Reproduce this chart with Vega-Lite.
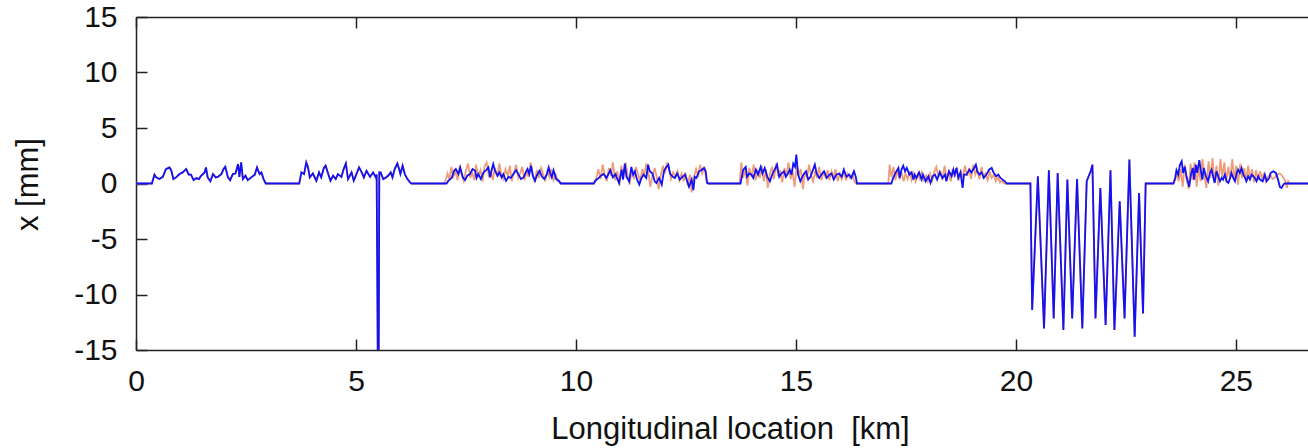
{
  "$schema": "https://vega.github.io/schema/vega-lite/v6.json",
  "width": 1172,
  "height": 333,
  "autosize": {"type": "none"},
  "padding": {"left": 136, "top": 17, "right": 0, "bottom": 98},
  "background": "white",
  "config": {
    "view": {"stroke": null},
    "font": "Liberation Sans",
    "axis": {
      "domainColor": "#222",
      "domainWidth": 1.5,
      "tickColor": "#222",
      "tickWidth": 1.5,
      "tickSize": -11,
      "labelColor": "#111",
      "titleColor": "#111",
      "labelFontSize": 30,
      "titleFontSize": 31,
      "titleFontWeight": "normal",
      "grid": false
    }
  },
  "datasets": {
    "orange": [
      {"d":0,"x":0},{"d":0.36,"x":0},{"d":0.42,"x":0.8},{"d":0.46,"x":0.55},{"d":0.53,"x":0.4},{"d":0.61,"x":0.6},{"d":0.68,"x":1.3},{"d":0.76,"x":1.45},{"d":0.8,"x":1.2},{"d":0.85,"x":0.4},{"d":0.91,"x":0.55},{"d":0.99,"x":0.85},{"d":1.06,"x":1.0},{"d":1.14,"x":1.3},{"d":1.2,"x":0.8},{"d":1.25,"x":0.8},{"d":1.31,"x":0.3},{"d":1.37,"x":0.5},{"d":1.43,"x":0.4},{"d":1.48,"x":0.7},{"d":1.56,"x":1.0},{"d":1.59,"x":1.45},{"d":1.63,"x":0.55},{"d":1.69,"x":0.2},{"d":1.75,"x":0.85},{"d":1.81,"x":0.55},{"d":1.86,"x":0.6},{"d":1.94,"x":0.85},{"d":1.99,"x":1.3},{"d":2.03,"x":1.5},{"d":2.09,"x":0.55},{"d":2.14,"x":0.3},{"d":2.2,"x":0.85},{"d":2.26,"x":0.9},{"d":2.32,"x":1.75},{"d":2.35,"x":0.6},{"d":2.39,"x":1.9},{"d":2.43,"x":0.4},{"d":2.49,"x":0.7},{"d":2.54,"x":0.3},{"d":2.62,"x":0.55},{"d":2.7,"x":0.8},{"d":2.75,"x":1.45},{"d":2.81,"x":0.85},{"d":2.85,"x":1.0},{"d":2.9,"x":0.4},{"d":2.95,"x":0},
      {"d":3.71,"x":0},{"d":3.76,"x":1.0},{"d":3.82,"x":0.85},{"d":3.87,"x":1.9},{"d":3.91,"x":1.45},{"d":3.95,"x":0.55},{"d":4.02,"x":0.9},{"d":4.1,"x":0.25},{"d":4.16,"x":1.0},{"d":4.21,"x":0.55},{"d":4.27,"x":1.4},{"d":4.31,"x":1.6},{"d":4.37,"x":0.85},{"d":4.42,"x":0.25},{"d":4.48,"x":0.7},{"d":4.54,"x":0.4},{"d":4.59,"x":0.85},{"d":4.67,"x":0.6},{"d":4.72,"x":1.3},{"d":4.77,"x":1.8},{"d":4.82,"x":0.4},{"d":4.9,"x":1.0},{"d":4.95,"x":0.25},{"d":5.01,"x":0.85},{"d":5.07,"x":1.45},{"d":5.13,"x":1.0},{"d":5.18,"x":0.55},{"d":5.24,"x":1.15},{"d":5.32,"x":0.6},{"d":5.39,"x":1.0},{"d":5.45,"x":0.55},{"d":5.47,"x":0.8},{"d":5.51,"x":-25},{"d":5.53,"x":1.0},{"d":5.56,"x":1.0},{"d":5.62,"x":0.4},{"d":5.68,"x":0.55},{"d":5.73,"x":0.7},{"d":5.79,"x":1.0},{"d":5.83,"x":0.55},{"d":5.88,"x":1.3},{"d":5.94,"x":1.8},{"d":5.98,"x":1.3},{"d":6.01,"x":0.85},{"d":6.06,"x":1.6},{"d":6.11,"x":0.85},{"d":6.17,"x":0.4},{"d":6.23,"x":0.1},{"d":6.26,"x":0},
      {"d":7.0,"x":0},{"d":7.04,"x":0.3},{"d":7.08,"x":0.9},{"d":7.12,"x":0.4},{"d":7.17,"x":1.5},{"d":7.21,"x":0.6},{"d":7.26,"x":1.1},{"d":7.31,"x":0.3},{"d":7.36,"x":1.6},{"d":7.4,"x":0.8},{"d":7.45,"x":0.2},{"d":7.5,"x":1.2},{"d":7.55,"x":1.8},{"d":7.6,"x":0.5},{"d":7.64,"x":1.0},{"d":7.69,"x":0.3},{"d":7.73,"x":1.7},{"d":7.78,"x":0.6},{"d":7.83,"x":1.2},{"d":7.88,"x":0.2},{"d":7.92,"x":1.5},{"d":7.97,"x":1.9},{"d":8.02,"x":0.7},{"d":8.07,"x":1.1},{"d":8.11,"x":0.3},{"d":8.16,"x":1.4},{"d":8.21,"x":0.6},{"d":8.26,"x":1.8},{"d":8.3,"x":0.9},{"d":8.35,"x":0.4},{"d":8.4,"x":1.3},{"d":8.45,"x":0.7},{"d":8.5,"x":1.6},{"d":8.54,"x":0.2},{"d":8.59,"x":1.0},{"d":8.64,"x":1.7},{"d":8.69,"x":0.5},{"d":8.73,"x":0.9},{"d":8.78,"x":1.5},{"d":8.83,"x":0.3},{"d":8.88,"x":1.1},{"d":8.92,"x":0.6},{"d":8.97,"x":1.9},{"d":9.02,"x":0.8},{"d":9.06,"x":0.1},{"d":9.11,"x":1.2},{"d":9.16,"x":0.5},{"d":9.21,"x":1.4},{"d":9.25,"x":0.9},{"d":9.3,"x":0.2},{"d":9.35,"x":1.1},{"d":9.4,"x":0.6},{"d":9.44,"x":1.3},{"d":9.49,"x":0.3},{"d":9.54,"x":0.8},{"d":9.59,"x":0.2},{"d":9.64,"x":0},
      {"d":10.42,"x":0},{"d":10.47,"x":0.6},{"d":10.51,"x":1.3},{"d":10.56,"x":0.4},{"d":10.61,"x":1.7},{"d":10.65,"x":0.9},{"d":10.7,"x":0.2},{"d":10.75,"x":1.4},{"d":10.8,"x":0.7},{"d":10.84,"x":1.9},{"d":10.89,"x":0.3},{"d":10.94,"x":1.1},{"d":10.99,"x":-0.2},{"d":11.03,"x":1.6},{"d":11.08,"x":0.5},{"d":11.13,"x":1.9},{"d":11.17,"x":0.8},{"d":11.22,"x":-0.1},{"d":11.27,"x":1.2},{"d":11.32,"x":0.4},{"d":11.36,"x":1.5},{"d":11.41,"x":0.9},{"d":11.46,"x":0.2},{"d":11.51,"x":1.3},{"d":11.55,"x":0.6},{"d":11.6,"x":1.8},{"d":11.65,"x":0.9},{"d":11.69,"x":-0.3},{"d":11.74,"x":0.7},{"d":11.79,"x":1.4},{"d":11.84,"x":0.5},{"d":11.88,"x":-0.5},{"d":11.93,"x":0.8},{"d":11.98,"x":1.6},{"d":12.02,"x":0.9},{"d":12.07,"x":1.9},{"d":12.12,"x":1.2},{"d":12.16,"x":0.4},{"d":12.21,"x":1.0},{"d":12.26,"x":0.6},{"d":12.31,"x":1.1},{"d":12.35,"x":0.3},{"d":12.4,"x":0.9},{"d":12.45,"x":0.2},{"d":12.49,"x":1.0},{"d":12.54,"x":-0.2},{"d":12.59,"x":0.8},{"d":12.63,"x":-0.8},{"d":12.68,"x":0.5},{"d":12.73,"x":1.3},{"d":12.78,"x":0.6},{"d":12.82,"x":1.7},{"d":12.87,"x":0.9},{"d":12.92,"x":1.5},{"d":12.96,"x":0.4},{"d":13.0,"x":0},
      {"d":13.72,"x":0},{"d":13.76,"x":1.9},{"d":13.8,"x":0.5},{"d":13.85,"x":1.2},{"d":13.9,"x":-0.2},{"d":13.94,"x":1.4},{"d":13.99,"x":0.6},{"d":14.04,"x":1.7},{"d":14.08,"x":0.3},{"d":14.13,"x":1.1},{"d":14.18,"x":0.5},{"d":14.22,"x":1.6},{"d":14.27,"x":0.2},{"d":14.32,"x":1.3},{"d":14.36,"x":-0.4},{"d":14.41,"x":0.9},{"d":14.46,"x":1.5},{"d":14.5,"x":0.4},{"d":14.55,"x":1.8},{"d":14.6,"x":0.7},{"d":14.64,"x":1.2},{"d":14.69,"x":0.1},{"d":14.74,"x":1.4},{"d":14.78,"x":0.6},{"d":14.83,"x":1.9},{"d":14.88,"x":0.4},{"d":14.92,"x":1.2},{"d":14.97,"x":-0.3},{"d":15.02,"x":1.6},{"d":15.06,"x":0.7},{"d":15.11,"x":1.3},{"d":15.16,"x":-0.5},{"d":15.2,"x":1.0},{"d":15.25,"x":0.5},{"d":15.3,"x":1.7},{"d":15.34,"x":0.8},{"d":15.39,"x":0.2},{"d":15.44,"x":1.1},{"d":15.48,"x":0.5},{"d":15.53,"x":1.5},{"d":15.58,"x":0.3},{"d":15.62,"x":1.0},{"d":15.67,"x":0.6},{"d":15.72,"x":1.2},{"d":15.76,"x":0.3},{"d":15.81,"x":1.1},{"d":15.86,"x":0.5},{"d":15.9,"x":1.3},{"d":15.95,"x":0.2},{"d":16.0,"x":0.9},{"d":16.04,"x":0.4},{"d":16.09,"x":1.1},{"d":16.14,"x":0.3},{"d":16.18,"x":0.9},{"d":16.23,"x":0.5},{"d":16.28,"x":0.8},{"d":16.33,"x":0.2},{"d":16.37,"x":0},
      {"d":17.1,"x":0},{"d":17.13,"x":1.7},{"d":17.17,"x":0.6},{"d":17.22,"x":1.5},{"d":17.26,"x":0.3},{"d":17.31,"x":1.2},{"d":17.35,"x":0.5},{"d":17.4,"x":1.0},{"d":17.45,"x":0.2},{"d":17.49,"x":0.9},{"d":17.54,"x":0.4},{"d":17.59,"x":1.1},{"d":17.63,"x":0.3},{"d":17.68,"x":0.9},{"d":17.72,"x":0.2},{"d":17.77,"x":0.8},{"d":17.82,"x":0.4},{"d":17.86,"x":1.0},{"d":17.91,"x":0.3},{"d":17.96,"x":0.7},{"d":18.0,"x":0.2},{"d":18.05,"x":0.9},{"d":18.1,"x":0.3},{"d":18.14,"x":1.0},{"d":18.19,"x":1.5},{"d":18.24,"x":0.6},{"d":18.28,"x":1.2},{"d":18.33,"x":0.3},{"d":18.38,"x":1.6},{"d":18.42,"x":0.5},{"d":18.47,"x":1.0},{"d":18.52,"x":0.2},{"d":18.56,"x":1.3},{"d":18.61,"x":0.6},{"d":18.66,"x":1.5},{"d":18.7,"x":0.3},{"d":18.75,"x":1.1},{"d":18.8,"x":0.5},{"d":18.84,"x":1.6},{"d":18.89,"x":0.7},{"d":18.94,"x":1.4},{"d":18.98,"x":0.4},{"d":19.03,"x":1.7},{"d":19.08,"x":0.8},{"d":19.12,"x":1.3},{"d":19.17,"x":0.4},{"d":19.22,"x":1.5},{"d":19.26,"x":0.6},{"d":19.31,"x":0.9},{"d":19.36,"x":0.3},{"d":19.4,"x":1.1},{"d":19.45,"x":0.5},{"d":19.5,"x":0.8},{"d":19.54,"x":0.2},{"d":19.59,"x":0.6},{"d":19.64,"x":0.1},{"d":19.68,"x":0.3},{"d":19.73,"x":0},
      {"d":20.33,"x":0},{"d":20.37,"x":-11.4},{"d":20.5,"x":0.65},{"d":20.64,"x":-13.05},{"d":20.75,"x":1.2},{"d":20.86,"x":-12.15},{"d":20.95,"x":0.95},{"d":21.08,"x":-13.2},{"d":21.17,"x":0.35},{"d":21.28,"x":-12.15},{"d":21.39,"x":0.4},{"d":21.51,"x":-13.05},{"d":21.61,"x":0.2},{"d":21.7,"x":1.1},{"d":21.74,"x":1.7},{"d":21.81,"x":-12.15},{"d":21.92,"x":-0.4},{"d":22.04,"x":-12.75},{"d":22.15,"x":1.2},{"d":22.24,"x":-13.2},{"d":22.36,"x":-1.6},{"d":22.47,"x":-12.15},{"d":22.58,"x":2.15},{"d":22.7,"x":-13.8},{"d":22.8,"x":-0.85},{"d":22.89,"x":-11.7},{"d":22.95,"x":0},
      {"d":23.58,"x":0},{"d":23.62,"x":0.3},{"d":23.66,"x":0.9},{"d":23.7,"x":0.2},{"d":23.75,"x":1.3},{"d":23.79,"x":-0.3},{"d":23.84,"x":1.7},{"d":23.88,"x":0.4},{"d":23.93,"x":-0.5},{"d":23.97,"x":1.8},{"d":24.02,"x":0.3},{"d":24.06,"x":1.9},{"d":24.11,"x":-0.3},{"d":24.15,"x":1.5},{"d":24.2,"x":0.2},{"d":24.24,"x":2.2},{"d":24.29,"x":0.6},{"d":24.33,"x":-0.4},{"d":24.38,"x":2.0},{"d":24.42,"x":0.5},{"d":24.47,"x":2.3},{"d":24.51,"x":0.2},{"d":24.56,"x":1.6},{"d":24.6,"x":-0.2},{"d":24.65,"x":2.2},{"d":24.69,"x":0.6},{"d":24.74,"x":1.9},{"d":24.78,"x":0.1},{"d":24.83,"x":1.5},{"d":24.87,"x":0.4},{"d":24.92,"x":2.2},{"d":24.96,"x":0.3},{"d":25.01,"x":1.6},{"d":25.05,"x":-0.1},{"d":25.1,"x":1.8},{"d":25.14,"x":0.5},{"d":25.19,"x":1.4},{"d":25.23,"x":0.2},{"d":25.28,"x":1.6},{"d":25.32,"x":0.4},{"d":25.37,"x":1.3},{"d":25.41,"x":0.1},{"d":25.46,"x":1.2},{"d":25.5,"x":0.3},{"d":25.55,"x":1.1},{"d":25.59,"x":0.5},{"d":25.64,"x":0.9},{"d":25.68,"x":0.2},{"d":25.73,"x":0.6},{"d":25.78,"x":0.8},{"d":25.83,"x":0.4},{"d":25.88,"x":0.5},{"d":25.93,"x":0.8},{"d":25.98,"x":0.9},{"d":26.03,"x":0.8},{"d":26.08,"x":0.5},{"d":26.12,"x":0.3},{"d":26.16,"x":-0.4},{"d":26.19,"x":0.2},{"d":26.22,"x":0},{"d":26.64,"x":0}
    ],
    "blue": [
      {"d":0,"x":0},{"d":0.36,"x":0},{"d":0.42,"x":0.8},{"d":0.46,"x":0.55},{"d":0.53,"x":0.4},{"d":0.61,"x":0.6},{"d":0.68,"x":1.3},{"d":0.76,"x":1.45},{"d":0.8,"x":1.2},{"d":0.85,"x":0.4},{"d":0.91,"x":0.55},{"d":0.99,"x":0.85},{"d":1.06,"x":1.0},{"d":1.14,"x":1.3},{"d":1.2,"x":0.8},{"d":1.25,"x":0.8},{"d":1.31,"x":0.3},{"d":1.37,"x":0.5},{"d":1.43,"x":0.4},{"d":1.48,"x":0.7},{"d":1.56,"x":1.0},{"d":1.59,"x":1.45},{"d":1.63,"x":0.55},{"d":1.69,"x":0.2},{"d":1.75,"x":0.85},{"d":1.81,"x":0.55},{"d":1.86,"x":0.6},{"d":1.94,"x":0.85},{"d":1.99,"x":1.3},{"d":2.03,"x":1.5},{"d":2.09,"x":0.55},{"d":2.14,"x":0.3},{"d":2.2,"x":0.85},{"d":2.26,"x":0.9},{"d":2.32,"x":1.75},{"d":2.35,"x":0.6},{"d":2.39,"x":1.9},{"d":2.43,"x":0.4},{"d":2.49,"x":0.7},{"d":2.54,"x":0.3},{"d":2.62,"x":0.55},{"d":2.7,"x":0.8},{"d":2.75,"x":1.45},{"d":2.81,"x":0.85},{"d":2.85,"x":1.0},{"d":2.9,"x":0.4},{"d":2.95,"x":0},
      {"d":3.71,"x":0},{"d":3.76,"x":1.0},{"d":3.82,"x":0.85},{"d":3.87,"x":1.9},{"d":3.91,"x":1.45},{"d":3.95,"x":0.55},{"d":4.02,"x":0.9},{"d":4.1,"x":0.25},{"d":4.16,"x":1.0},{"d":4.21,"x":0.55},{"d":4.27,"x":1.4},{"d":4.31,"x":1.6},{"d":4.37,"x":0.85},{"d":4.42,"x":0.25},{"d":4.48,"x":0.7},{"d":4.54,"x":0.4},{"d":4.59,"x":0.85},{"d":4.67,"x":0.6},{"d":4.72,"x":1.3},{"d":4.77,"x":1.8},{"d":4.82,"x":0.4},{"d":4.9,"x":1.0},{"d":4.95,"x":0.25},{"d":5.01,"x":0.85},{"d":5.07,"x":1.45},{"d":5.13,"x":1.0},{"d":5.18,"x":0.55},{"d":5.24,"x":1.15},{"d":5.32,"x":0.6},{"d":5.39,"x":1.0},{"d":5.45,"x":0.55},{"d":5.47,"x":0.8},{"d":5.51,"x":-25},{"d":5.53,"x":1.0},{"d":5.56,"x":1.0},{"d":5.62,"x":0.4},{"d":5.68,"x":0.55},{"d":5.73,"x":0.7},{"d":5.79,"x":1.0},{"d":5.83,"x":0.55},{"d":5.88,"x":1.3},{"d":5.94,"x":1.8},{"d":5.98,"x":1.3},{"d":6.01,"x":0.85},{"d":6.06,"x":1.6},{"d":6.11,"x":0.85},{"d":6.17,"x":0.4},{"d":6.23,"x":0.1},{"d":6.26,"x":0},
      {"d":7.06,"x":0},{"d":7.1,"x":0.25},{"d":7.18,"x":0.55},{"d":7.23,"x":1.15},{"d":7.27,"x":1.3},{"d":7.33,"x":0.85},{"d":7.37,"x":1.45},{"d":7.43,"x":0.55},{"d":7.48,"x":0.3},{"d":7.53,"x":0.7},{"d":7.59,"x":0.85},{"d":7.65,"x":1.3},{"d":7.71,"x":1.15},{"d":7.74,"x":0.5},{"d":7.78,"x":0.85},{"d":7.84,"x":0.4},{"d":7.9,"x":1.0},{"d":7.96,"x":1.2},{"d":8.01,"x":1.45},{"d":8.05,"x":0.55},{"d":8.09,"x":1.3},{"d":8.12,"x":1.75},{"d":8.16,"x":1.15},{"d":8.22,"x":0.7},{"d":8.26,"x":1.0},{"d":8.31,"x":0.55},{"d":8.35,"x":0.85},{"d":8.41,"x":0.25},{"d":8.47,"x":0.6},{"d":8.52,"x":0.5},{"d":8.58,"x":0.85},{"d":8.64,"x":1.2},{"d":8.69,"x":0.85},{"d":8.75,"x":0.4},{"d":8.81,"x":0.55},{"d":8.86,"x":1.0},{"d":8.9,"x":1.3},{"d":8.94,"x":0.85},{"d":8.98,"x":1.6},{"d":9.02,"x":0.7},{"d":9.07,"x":0.25},{"d":9.11,"x":0.7},{"d":9.17,"x":1.15},{"d":9.23,"x":0.6},{"d":9.28,"x":0.4},{"d":9.34,"x":0.85},{"d":9.38,"x":1.45},{"d":9.42,"x":0.85},{"d":9.45,"x":0.55},{"d":9.49,"x":1.2},{"d":9.55,"x":0.4},{"d":9.61,"x":0.25},{"d":9.66,"x":0},
      {"d":10.4,"x":0},{"d":10.44,"x":0.25},{"d":10.52,"x":0.5},{"d":10.57,"x":0.7},{"d":10.63,"x":0.85},{"d":10.69,"x":0.5},{"d":10.74,"x":0.85},{"d":10.78,"x":1.2},{"d":10.84,"x":0.55},{"d":10.9,"x":0.85},{"d":10.92,"x":0.6},{"d":10.98,"x":0.05},{"d":11.04,"x":1.25},{"d":11.07,"x":0.35},{"d":11.11,"x":1.8},{"d":11.15,"x":0.6},{"d":11.21,"x":0.2},{"d":11.26,"x":1.5},{"d":11.3,"x":0.8},{"d":11.34,"x":1.1},{"d":11.39,"x":0.35},{"d":11.44,"x":-0.1},{"d":11.49,"x":0.5},{"d":11.54,"x":0.8},{"d":11.6,"x":0.5},{"d":11.64,"x":1.7},{"d":11.68,"x":1.1},{"d":11.74,"x":0.9},{"d":11.79,"x":0.2},{"d":11.83,"x":0.05},{"d":11.89,"x":0.5},{"d":11.95,"x":-0.1},{"d":12.0,"x":1.1},{"d":12.04,"x":1.4},{"d":12.1,"x":1.7},{"d":12.14,"x":0.9},{"d":12.2,"x":0.6},{"d":12.25,"x":0.5},{"d":12.3,"x":0.9},{"d":12.36,"x":0.35},{"d":12.42,"x":0.6},{"d":12.48,"x":0.8},{"d":12.53,"x":0.2},{"d":12.57,"x":-0.3},{"d":12.63,"x":0.35},{"d":12.67,"x":-0.6},{"d":12.7,"x":0.6},{"d":12.74,"x":0.5},{"d":12.8,"x":1.1},{"d":12.85,"x":1.2},{"d":12.91,"x":1.4},{"d":12.95,"x":1.1},{"d":12.98,"x":0.05},{"d":13.01,"x":0},
      {"d":13.74,"x":0},{"d":13.8,"x":1.2},{"d":13.86,"x":1.5},{"d":13.89,"x":0.6},{"d":13.94,"x":0.9},{"d":13.99,"x":0.8},{"d":14.03,"x":0.5},{"d":14.09,"x":1.25},{"d":14.14,"x":0.8},{"d":14.2,"x":1.5},{"d":14.24,"x":0.9},{"d":14.29,"x":1.4},{"d":14.35,"x":0.6},{"d":14.41,"x":0.2},{"d":14.47,"x":0.9},{"d":14.52,"x":1.25},{"d":14.57,"x":1.7},{"d":14.62,"x":0.6},{"d":14.67,"x":0.9},{"d":14.73,"x":1.1},{"d":14.77,"x":0.6},{"d":14.82,"x":0.9},{"d":14.86,"x":1.25},{"d":14.9,"x":0.8},{"d":14.94,"x":1.8},{"d":14.98,"x":1.5},{"d":15.01,"x":2.6},{"d":15.05,"x":0.8},{"d":15.1,"x":0.2},{"d":15.17,"x":0.8},{"d":15.23,"x":1.1},{"d":15.28,"x":0.35},{"d":15.33,"x":0.6},{"d":15.39,"x":1.25},{"d":15.43,"x":1.7},{"d":15.47,"x":0.9},{"d":15.53,"x":0.5},{"d":15.58,"x":0.8},{"d":15.64,"x":1.1},{"d":15.7,"x":0.5},{"d":15.76,"x":0.8},{"d":15.81,"x":0.9},{"d":15.86,"x":0.35},{"d":15.92,"x":0.8},{"d":15.98,"x":0.9},{"d":16.04,"x":0.6},{"d":16.09,"x":1.25},{"d":16.15,"x":0.6},{"d":16.21,"x":0.8},{"d":16.26,"x":0.5},{"d":16.32,"x":1.1},{"d":16.36,"x":0.6},{"d":16.39,"x":0},
      {"d":17.17,"x":0},{"d":17.21,"x":0.5},{"d":17.27,"x":1.0},{"d":17.33,"x":1.4},{"d":17.36,"x":0.5},{"d":17.4,"x":1.25},{"d":17.44,"x":1.6},{"d":17.48,"x":1.1},{"d":17.52,"x":1.4},{"d":17.58,"x":0.8},{"d":17.63,"x":1.0},{"d":17.67,"x":0.35},{"d":17.7,"x":0.8},{"d":17.74,"x":0.5},{"d":17.8,"x":1.0},{"d":17.86,"x":0.35},{"d":17.89,"x":0.8},{"d":17.95,"x":0.2},{"d":18.01,"x":0.65},{"d":18.06,"x":0.05},{"d":18.11,"x":0.65},{"d":18.16,"x":0.8},{"d":18.21,"x":0.35},{"d":18.27,"x":1.0},{"d":18.33,"x":0.5},{"d":18.39,"x":0.8},{"d":18.42,"x":0.2},{"d":18.48,"x":1.1},{"d":18.54,"x":0.65},{"d":18.58,"x":1.25},{"d":18.61,"x":0.8},{"d":18.65,"x":1.4},{"d":18.69,"x":0.5},{"d":18.74,"x":1.0},{"d":18.79,"x":-0.4},{"d":18.82,"x":0.8},{"d":18.88,"x":0.8},{"d":18.94,"x":1.25},{"d":18.99,"x":1.0},{"d":19.05,"x":1.4},{"d":19.09,"x":1.7},{"d":19.12,"x":1.1},{"d":19.17,"x":0.8},{"d":19.22,"x":1.0},{"d":19.27,"x":0.5},{"d":19.33,"x":0.8},{"d":19.39,"x":1.25},{"d":19.45,"x":1.4},{"d":19.49,"x":1.0},{"d":19.55,"x":0.65},{"d":19.6,"x":0.8},{"d":19.65,"x":0.5},{"d":19.7,"x":0.35},{"d":19.75,"x":0.2},{"d":19.79,"x":0},
      {"d":20.33,"x":0},{"d":20.37,"x":-11.4},{"d":20.5,"x":0.65},{"d":20.64,"x":-13.05},{"d":20.75,"x":1.2},{"d":20.86,"x":-12.15},{"d":20.95,"x":0.95},{"d":21.08,"x":-13.2},{"d":21.17,"x":0.35},{"d":21.28,"x":-12.15},{"d":21.39,"x":0.4},{"d":21.51,"x":-13.05},{"d":21.61,"x":0.2},{"d":21.7,"x":1.1},{"d":21.74,"x":1.7},{"d":21.81,"x":-12.15},{"d":21.92,"x":-0.4},{"d":22.04,"x":-12.75},{"d":22.15,"x":1.2},{"d":22.24,"x":-13.2},{"d":22.36,"x":-1.6},{"d":22.47,"x":-12.15},{"d":22.58,"x":2.15},{"d":22.7,"x":-13.8},{"d":22.8,"x":-0.85},{"d":22.89,"x":-11.7},{"d":22.95,"x":0},
      {"d":23.58,"x":0},{"d":23.62,"x":0.5},{"d":23.65,"x":1.2},{"d":23.69,"x":0.8},{"d":23.73,"x":1.7},{"d":23.77,"x":2.0},{"d":23.8,"x":0.95},{"d":23.84,"x":1.5},{"d":23.88,"x":0.6},{"d":23.94,"x":-0.3},{"d":23.98,"x":0.8},{"d":24.02,"x":1.4},{"d":24.05,"x":0.35},{"d":24.09,"x":1.7},{"d":24.12,"x":0.95},{"d":24.17,"x":2.1},{"d":24.2,"x":1.25},{"d":24.24,"x":0.35},{"d":24.27,"x":1.4},{"d":24.32,"x":0.65},{"d":24.37,"x":0.2},{"d":24.41,"x":0.95},{"d":24.45,"x":1.25},{"d":24.49,"x":0.5},{"d":24.52,"x":0.05},{"d":24.56,"x":1.1},{"d":24.6,"x":0.65},{"d":24.64,"x":0.2},{"d":24.68,"x":0.5},{"d":24.71,"x":0.35},{"d":24.75,"x":0.8},{"d":24.79,"x":0.2},{"d":24.83,"x":0.05},{"d":24.87,"x":0.5},{"d":24.9,"x":0.95},{"d":24.94,"x":0.5},{"d":24.98,"x":0.2},{"d":25.02,"x":0.95},{"d":25.05,"x":1.25},{"d":25.09,"x":0.95},{"d":25.13,"x":1.4},{"d":25.17,"x":0.8},{"d":25.21,"x":0.5},{"d":25.24,"x":0.2},{"d":25.28,"x":0.65},{"d":25.32,"x":0.35},{"d":25.36,"x":0.8},{"d":25.4,"x":0.65},{"d":25.43,"x":0.5},{"d":25.47,"x":0.2},{"d":25.51,"x":0.65},{"d":25.55,"x":0.35},{"d":25.61,"x":0.2},{"d":25.66,"x":0.8},{"d":25.7,"x":0.2},{"d":25.76,"x":0.5},{"d":25.79,"x":0.95},{"d":25.85,"x":1.1},{"d":25.91,"x":0.95},{"d":25.96,"x":0.35},{"d":26.0,"x":-0.3},{"d":26.04,"x":-0.4},{"d":26.08,"x":-0.1},{"d":26.11,"x":0},{"d":26.64,"x":0}
    ]
  },
  "layer": [
    {
      "data": {"name": "orange"},
      "mark": {"type": "line", "color": "#ee9c7a", "strokeWidth": 1.8, "clip": true},
      "encoding": {
        "x": {
          "field": "d", "type": "quantitative",
          "scale": {"domain": [0, 26.64], "nice": false},
          "axis": {
            "orient": "bottom", "values": [0, 5, 10, 15, 20, 25],
            "labelPadding": 51, "labelBaseline": "alphabetic", "labelFlush": false,
            "title": "Longitudinal location\u00a0 [km]",
            "titleX": 594, "titleY": 88, "titleBaseline": "alphabetic", "titleAnchor": "middle"
          }
        },
        "y": {
          "field": "x", "type": "quantitative",
          "scale": {"domain": [-15, 15], "nice": false},
          "axis": {
            "orient": "left", "values": [-15, -10, -5, 0, 5, 10, 15],
            "labelExpr": "'' + datum.value",
            "labelPadding": 30, "labelBaseline": "middle", "labelFlush": false,
            "title": "x [mm]",
            "titleX": -108, "titleY": 167, "titleAngle": -90, "titleBaseline": "middle", "titleAnchor": "middle"
          }
        }
      }
    },
    {
      "data": {"name": "blue"},
      "mark": {"type": "line", "color": "#1212f2", "strokeWidth": 1.8, "clip": true},
      "encoding": {
        "x": {
          "field": "d", "type": "quantitative",
          "scale": {"domain": [0, 26.64], "nice": false},
          "axis": {"orient": "top", "values": [0, 5, 10, 15, 20, 25], "labels": false, "title": null}
        },
        "y": {
          "field": "x", "type": "quantitative",
          "scale": {"domain": [-15, 15], "nice": false},
          "axis": null
        }
      }
    }
  ],
  "resolve": {"axis": {"x": "independent", "y": "independent"}}
}
